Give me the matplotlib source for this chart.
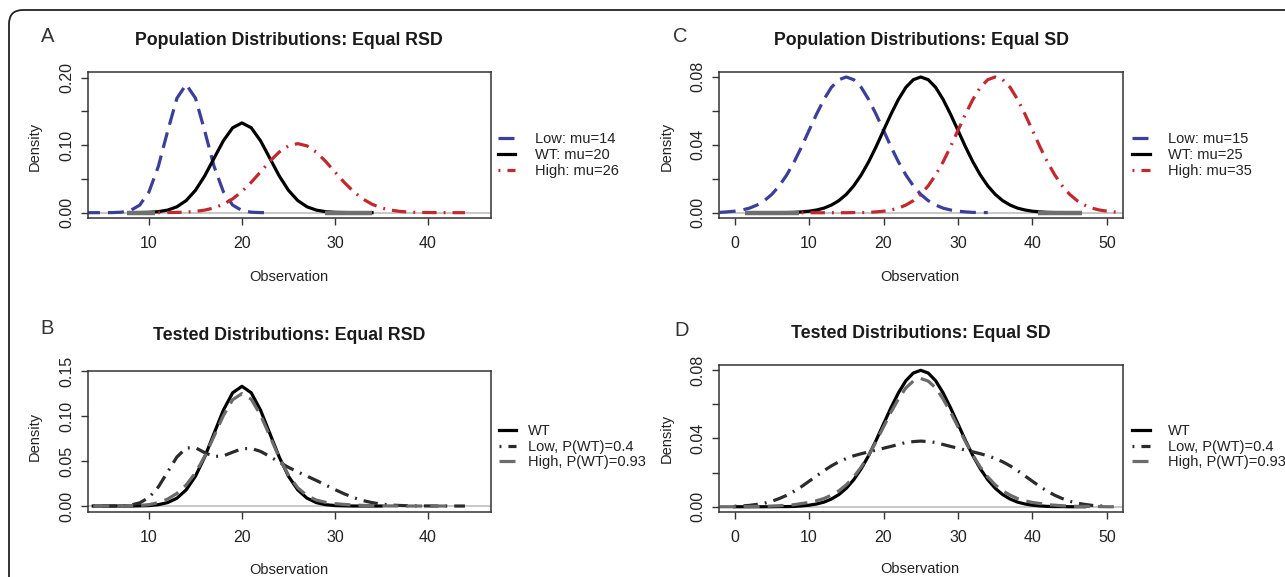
import numpy as np
import matplotlib
matplotlib.use("Agg")
import matplotlib.pyplot as plt
from matplotlib.patches import FancyBboxPatch
from matplotlib.transforms import IdentityTransform

plt.rcParams['font.family'] = ['Liberation Sans', 'DejaVu Sans']

# A: population distributions, equal RSD
pop_rsd_low_x = np.arange(3, 24)
pop_rsd_low = [0, 0, 0, .0001, .0007, .0032, .0112, .0310, .0685, .1207, .1696, .1900,
               .1696, .1207, .0685, .0310, .0112, .0032, .0007, .0001, 0]
pop_rsd_wt_x = np.arange(8, 35)
pop_rsd_wt = [0, .0002, .0005, .0015, .0038, .0087, .0180, .0332, .0547, .0807, .1065, .1258,
              .1330, .1258, .1065, .0807, .0547, .0332, .0180, .0087, .0038, .0015, .0005,
              .0002, 0, 0, 0]
pop_rsd_high_x = np.arange(11, 45)
pop_rsd_high = [.0001, .0002, .0004, .0009, .0019, .0038, .0071, .0125, .0204, .0313, .0450,
                .0604, .0761, .0897, .0990, .1023, .0990, .0897, .0761, .0604, .0450, .0313,
                .0204, .0125, .0071, .0038, .0019, .0009, .0004, .0002, .0001, 0, 0, 0]
pop_rsd_tails = [(7.6, 10.6), (28.9, 34.0)]

# C: population distributions, equal SD
pop_sd_low_x = np.arange(-2, 35)
pop_sd_low = [.0002, .0005, .0009, .0016, .0027, .0045, .0071, .0108, .0158, .0222, .0299,
              .0388, .0484, .0579, .0666, .0737, .0782, .0798, .0782, .0737, .0666, .0579,
              .0484, .0388, .0299, .0222, .0158, .0108, .0071, .0045, .0027, .0016, .0009,
              .0005, .0002, .0001, .0001]
pop_sd_wt_x = np.arange(2, 47)
pop_sd_wt = [0, 0, 0, 0, .0001, .0001, .0002, .0005, .0009, .0016, .0027, .0045, .0071,
             .0108, .0158, .0222, .0299, .0388, .0484, .0579, .0666, .0737, .0782, .0798,
             .0782, .0737, .0666, .0579, .0484, .0388, .0299, .0222, .0158, .0108, .0071,
             .0045, .0027, .0016, .0009, .0005, .0002, .0001, .0001, 0, 0]
pop_sd_high_x = np.arange(9, 53)
pop_sd_high = [0, 0, 0, 0, 0, 0, 0, .0001, .0001, .0002, .0005, .0009, .0016, .0027, .0045,
               .0071, .0108, .0158, .0222, .0299, .0388, .0484, .0579, .0666, .0737, .0782,
               .0798, .0782, .0737, .0666, .0579, .0484, .0388, .0299, .0222, .0158, .0108,
               .0071, .0045, .0027, .0016, .0009, .0005, .0002]
pop_sd_tails = [(1.4, 8.6), (40.8, 46.7)]

# B: tested distributions, equal RSD
test_rsd_wt_x = np.arange(4, 36)
test_rsd_wt = [0, 0, 0, 0, 0, .0002, .0005, .0015, .0038, .0087, .0180, .0332, .0547, .0807,
               .1065, .1258, .1330, .1258, .1065, .0807, .0547, .0332, .0180, .0087, .0038,
               .0015, .0005, .0002, 0, 0, 0, 0]
test_rsd_low_x = np.arange(4, 45)
test_rsd_low = [0, 0, 0, .0002, .0010, .0035, .0095, .0212, .0378, .0545, .0645, .0648,
                .0592, .0550, .0557, .0598, .0636, .0640, .0607, .0551, .0488, .0430, .0379,
                .0332, .0284, .0234, .0183, .0136, .0094, .0061, .0038, .0021, .0011, .0006,
                .0003, .0001, .0001, 0, 0, 0, 0]
test_rsd_high_x = np.arange(4, 43)
test_rsd_high = [0, 0, 0, 0, .0002, .0006, .0016, .0038, .0077, .0140, .0234, .0369, .0552,
                 .0777, .1005, .1181, .1249, .1186, .1011, .0778, .0540, .0344, .0203, .0116,
                 .0066, .0041, .0026, .0018, .0011, .0007, .0004, .0002, .0001, 0, 0, 0, 0,
                 0, 0]

# D: tested distributions, equal SD
test_sd_wt_x = np.arange(0, 48)
test_sd_wt = [0, 0, 0, 0, 0, 0, .0001, .0001, .0002, .0005, .0009, .0016, .0027, .0045,
              .0071, .0108, .0158, .0222, .0299, .0388, .0484, .0579, .0666, .0737, .0782,
              .0798, .0782, .0737, .0666, .0579, .0484, .0388, .0299, .0222, .0158, .0108,
              .0071, .0045, .0027, .0016, .0009, .0005, .0002, .0001, .0001, 0, 0, 0]
test_sd_low_x = np.arange(0, 51)
test_sd_low = [.0003, .0005, .0008, .0014, .0021, .0032, .0048, .0067, .0091, .0118, .0149,
               .0180, .0211, .0239, .0263, .0282, .0298, .0310, .0321, .0331, .0342, .0353,
               .0364, .0376, .0381, .0384, .0381, .0376, .0364, .0353, .0342, .0331, .0321,
               .0310, .0298, .0282, .0263, .0239, .0211, .0180, .0149, .0118, .0091, .0067,
               .0048, .0032, .0021, .0014, .0008, .0005, .0003]
test_sd_high_x = np.arange(-2, 53)
test_sd_high = [0, 0, 0, .0001, .0001, .0002, .0002, .0004, .0006, .0009, .0012, .0019,
                .0025, .0035, .0048, .0068, .0093, .0128, .0174, .0232, .0301, .0381, .0467,
                .0553, .0630, .0695, .0735, .0750, .0735, .0695, .0630, .0553, .0467, .0381,
                .0301, .0232, .0174, .0128, .0093, .0068, .0048, .0035, .0025, .0019, .0012,
                .0009, .0006, .0004, .0002, .0002, .0001, .0001, 0, 0, 0]

pop_rsd_labels = ['Low: mu=14', 'WT: mu=20', 'High: mu=26']
pop_sd_labels = ['Low: mu=15', 'WT: mu=25', 'High: mu=35']
test_labels = ['WT', 'Low, P(WT)=0.4', 'High, P(WT)=0.93']

# ---- styling ----
W, H = 1285, 577
BLUE = '#3b3f9a'
RED = '#c3282e'
DARK = '#2b2b2b'
MID = '#6b6b6b'
LW = 2.3
DASH = (5, 2.5)
DOTDASH = (0.6, 2.2, 4.5, 2.2)

fig = plt.figure(figsize=(W / 100, H / 100), dpi=100)


def fx(px):
    return px / W


def fy(py):
    return 1 - py / H


def make_axes(left, right, top, bottom, xlim, ylim, xticks, yticks, ylabels):
    ax = fig.add_axes([fx(left), fy(bottom), (right - left) / W, (bottom - top) / H])
    ax.set_xlim(xlim)
    ax.set_ylim(ylim)
    ax.axhline(0, color='#c4c4c4', lw=1.3, zorder=1)
    for sp in ax.spines.values():
        sp.set_linewidth(1.1)
        sp.set_color('#333333')
    ax.set_xticks(xticks)
    ax.set_yticks(yticks)
    ax.set_yticklabels(ylabels, rotation=90, va='center')
    ax.tick_params(direction='out', length=5, width=1, colors='#333333',
                   labelsize=11.5, labelcolor='#222222')
    ax.tick_params(axis='x', pad=8)
    ax.tick_params(axis='y', pad=5)
    return ax


def add_legend(ax, handles, labels, bx, by, textpad):
    ax.legend(handles, labels, loc='center left', bbox_to_anchor=(bx, by), frameon=False,
              fontsize=10.5, handlelength=1.2, handletextpad=textpad, labelspacing=0.12,
              borderpad=0, borderaxespad=0, labelcolor='#222222')


# ---- A ----
axA = make_axes(87.8, 490.6, 71.7, 218, (3.41, 46.76), (-0.0079, 0.2089),
                [10, 20, 30, 40], [0, 0.05, 0.10, 0.15, 0.20],
                ['0.00', '', '0.10', '', '0.20'])
lA1, = axA.plot(pop_rsd_low_x, pop_rsd_low, color=BLUE, lw=LW, dashes=DASH)
lA2, = axA.plot(pop_rsd_wt_x, pop_rsd_wt, color='black', lw=LW)
lA3, = axA.plot(pop_rsd_high_x, pop_rsd_high, color=RED, lw=LW, dashes=DOTDASH)
for a, b in pop_rsd_tails:
    axA.hlines(0, a, b, color='#6f6f6f', lw=3.2, zorder=4)
add_legend(axA, [lA1, lA2, lA3], pop_rsd_labels, 1.018, 0.431, 1.37)

# ---- C ----
axC = make_axes(719.4, 1123.3, 71.7, 218, (-2.04, 52.2), (-0.0031, 0.0829),
                [0, 10, 20, 30, 40, 50], [0, 0.02, 0.04, 0.06, 0.08],
                ['0.00', '', '0.04', '', '0.08'])
lC1, = axC.plot(pop_sd_low_x, pop_sd_low, color=BLUE, lw=LW, dashes=DASH)
lC2, = axC.plot(pop_sd_wt_x, pop_sd_wt, color='black', lw=LW)
lC3, = axC.plot(pop_sd_high_x, pop_sd_high, color=RED, lw=LW, dashes=DOTDASH)
for a, b in pop_sd_tails:
    axC.hlines(0, a, b, color='#6f6f6f', lw=3.2, zorder=4)
add_legend(axC, [lC1, lC2, lC3], pop_sd_labels, 1.0225, 0.431, 1.22)

# ---- B ----
axB = make_axes(87.8, 490.6, 371, 511.7, (3.41, 46.76), (-0.0063, 0.1489),
                [10, 20, 30, 40], [0, 0.05, 0.10, 0.15],
                ['0.00', '0.05', '0.10', '0.15'])
lB1, = axB.plot(test_rsd_wt_x, test_rsd_wt, color='black', lw=LW)
lB2, = axB.plot(test_rsd_low_x, test_rsd_low, color=DARK, lw=LW, dashes=DOTDASH)
lB3, = axB.plot(test_rsd_high_x, test_rsd_high, color=MID, lw=LW, dashes=DASH)
add_legend(axB, [lB1, lB2, lB3], test_labels, 1.02, 0.462, 0.79)

# ---- D ----
axD = make_axes(719.4, 1123.3, 365, 511.7, (-2.04, 52.2), (-0.0029, 0.0829),
                [0, 10, 20, 30, 40, 50], [0, 0.02, 0.04, 0.06, 0.08],
                ['0.00', '', '0.04', '', '0.08'])
lD1, = axD.plot(test_sd_wt_x, test_sd_wt, color='black', lw=LW)
lD2, = axD.plot(test_sd_low_x, test_sd_low, color=DARK, lw=LW, dashes=DOTDASH)
lD3, = axD.plot(test_sd_high_x, test_sd_high, color=MID, lw=LW, dashes=DASH)
add_legend(axD, [lD1, lD2, lD3], test_labels, 1.0225, 0.443, 1.22)

# ---- titles, panel letters, axis labels ----
titles = [(289, 40.7, 'Population Distributions: Equal RSD'),
          (921, 40.7, 'Population Distributions: Equal SD'),
          (289, 335, 'Tested Distributions: Equal RSD'),
          (921, 333, 'Tested Distributions: Equal SD')]
for x, y, t in titles:
    fig.text(fx(x), fy(y), t, ha='center', va='center', fontsize=12.8,
             fontweight='bold', color='#1a1a1a')

for x, y, t in [(48, 36, 'A'), (680, 36, 'C'), (47, 328, 'B'), (682, 330, 'D')]:
    fig.text(fx(x), fy(y), t, ha='center', va='center', fontsize=14.5, color='#333333')

for x, y in [(34.7, 146.7), (666.7, 146.7), (34.7, 436.7), (666.7, 438.3)]:
    fig.text(fx(x), fy(y), 'Density', ha='center', va='center', rotation=90,
             fontsize=10.5, color='#222222')
for x, y in [(289, 276.7), (920, 276.7), (289, 570), (920, 569)]:
    fig.text(fx(x), fy(y), 'Observation', ha='center', va='center',
             fontsize=10.5, color='#222222')

# rounded outer frame (cropped at the right and bottom)
frame = FancyBboxPatch((9, -40), 1340, 567 + 40, boxstyle='round,pad=0,rounding_size=14',
                       transform=IdentityTransform(), fill=False, lw=1.3, ec='#222222')
fig.add_artist(frame)

fig.savefig('out.png', dpi=100)
